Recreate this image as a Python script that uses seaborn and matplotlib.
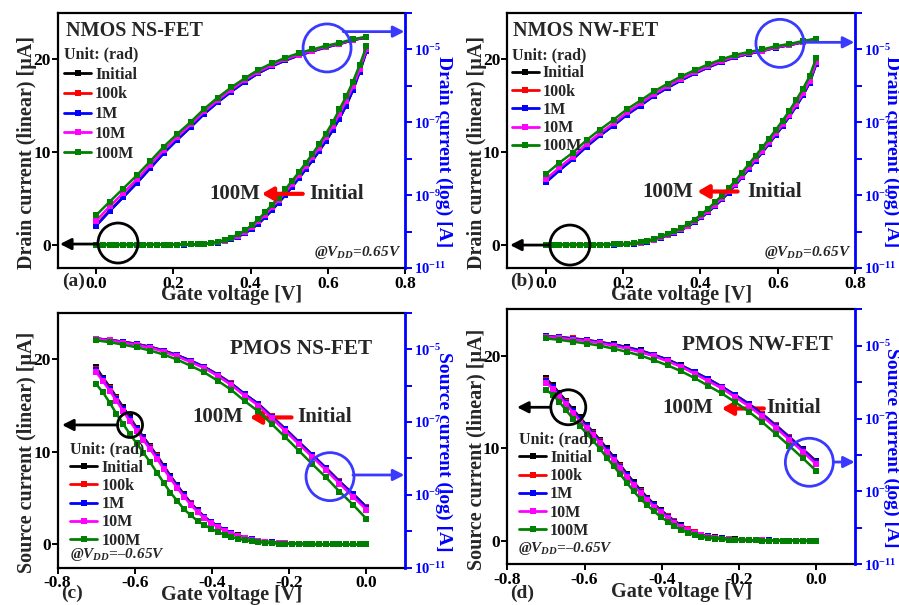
import numpy as np
import pandas as pd
import matplotlib
matplotlib.use("Agg")
import matplotlib.pyplot as plt
import seaborn as sns
from matplotlib.patches import Ellipse
from matplotlib.lines import Line2D
from matplotlib.ticker import NullLocator, FixedLocator, FixedFormatter

# ---------------- data ----------------
SERIES = ["Initial", "100k", "1M", "10M", "100M"]
COLORS = ["#000000", "#ff0000", "#0000ff", "#ff00ff", "#008000"]

# gate-voltage sweeps (V)
VG_N_LOG = np.linspace(0.0, 0.7, 21)
VG_N_LIN = np.linspace(0.0, 0.7, 41)
VG_P_LOG = np.linspace(-0.7, 0.0, 21)
VG_P_LIN = np.linspace(-0.7, 0.0, 41)

# (a) NMOS NS-FET : log10 of drain current [A]
a_log_Initial = [-9.83, -9.43, -9.05, -8.67, -8.26, -7.84, -7.47, -7.13, -6.76, -6.44, -6.15, -5.89, -5.65, -5.46, -5.30, -5.16, -5.05, -4.94, -4.85, -4.74, -4.67]
a_log_100k = [-9.82, -9.42, -9.05, -8.66, -8.25, -7.84, -7.47, -7.12, -6.76, -6.44, -6.15, -5.89, -5.65, -5.46, -5.30, -5.16, -5.05, -4.94, -4.85, -4.74, -4.67]
a_log_1M = [-9.84, -9.44, -9.06, -8.67, -8.26, -7.85, -7.48, -7.13, -6.77, -6.45, -6.16, -5.89, -5.65, -5.46, -5.30, -5.16, -5.05, -4.94, -4.85, -4.74, -4.67]
a_log_10M = [-9.70, -9.31, -8.94, -8.57, -8.17, -7.76, -7.40, -7.06, -6.70, -6.39, -6.10, -5.84, -5.61, -5.43, -5.27, -5.14, -5.03, -4.92, -4.84, -4.73, -4.66]
a_log_100M = [-9.55, -9.18, -8.82, -8.46, -8.07, -7.67, -7.32, -6.99, -6.63, -6.32, -6.04, -5.79, -5.56, -5.38, -5.23, -5.10, -5.00, -4.90, -4.82, -4.72, -4.65]
# (a) linear drain current [uA]
a_lin_Initial = [0.00, 0.00, 0.00, 0.00, 0.00, 0.00, 0.00, 0.01, 0.01, 0.01, 0.01, 0.02, 0.02, 0.03, 0.04, 0.06, 0.10, 0.15, 0.25, 0.39, 0.60, 0.89, 1.25, 1.72, 2.30, 2.98, 3.75, 4.55, 5.38, 6.28, 7.19, 8.14, 9.11, 10.13, 11.21, 12.37, 13.63, 15.03, 16.70, 18.70, 20.90]
a_lin_100k = [0.00, 0.00, 0.00, 0.00, 0.00, 0.00, 0.00, 0.01, 0.01, 0.01, 0.01, 0.02, 0.02, 0.03, 0.04, 0.06, 0.10, 0.15, 0.25, 0.39, 0.61, 0.90, 1.26, 1.73, 2.31, 2.99, 3.76, 4.56, 5.40, 6.30, 7.21, 8.16, 9.13, 10.15, 11.23, 12.40, 13.66, 15.06, 16.72, 18.72, 20.90]
a_lin_1M = [0.00, 0.00, 0.00, 0.00, 0.00, 0.00, 0.00, 0.01, 0.01, 0.01, 0.01, 0.02, 0.02, 0.03, 0.04, 0.06, 0.10, 0.15, 0.25, 0.39, 0.60, 0.89, 1.24, 1.71, 2.29, 2.97, 3.74, 4.54, 5.37, 6.27, 7.18, 8.13, 9.10, 10.12, 11.20, 12.36, 13.62, 15.02, 16.68, 18.68, 20.85]
a_lin_10M = [0.00, 0.00, 0.00, 0.00, 0.00, 0.00, 0.01, 0.01, 0.01, 0.01, 0.02, 0.02, 0.03, 0.04, 0.05, 0.07, 0.11, 0.18, 0.29, 0.46, 0.69, 1.00, 1.40, 1.91, 2.53, 3.25, 4.03, 4.83, 5.69, 6.59, 7.53, 8.48, 9.46, 10.49, 11.61, 12.79, 14.12, 15.52, 17.10, 18.95, 21.10]
a_lin_100M = [0.00, 0.00, 0.00, 0.00, 0.00, 0.00, 0.01, 0.01, 0.01, 0.01, 0.02, 0.02, 0.03, 0.04, 0.05, 0.08, 0.13, 0.21, 0.33, 0.52, 0.78, 1.12, 1.55, 2.10, 2.75, 3.50, 4.30, 5.10, 6.00, 6.90, 7.85, 8.80, 9.80, 10.85, 12.00, 13.20, 14.60, 16.00, 17.60, 19.40, 21.40]

# (b) NMOS NW-FET
b_log_Initial = [-8.64, -8.31, -8.01, -7.66, -7.36, -7.08, -6.78, -6.53, -6.27, -6.05, -5.84, -5.66, -5.49, -5.34, -5.21, -5.12, -5.04, -4.95, -4.88, -4.80, -4.72]
b_log_100k = [-8.63, -8.30, -8.00, -7.66, -7.35, -7.08, -6.78, -6.53, -6.27, -6.04, -5.84, -5.66, -5.49, -5.34, -5.21, -5.12, -5.04, -4.95, -4.88, -4.80, -4.72]
b_log_1M = [-8.65, -8.32, -8.01, -7.67, -7.36, -7.09, -6.79, -6.54, -6.27, -6.05, -5.85, -5.66, -5.49, -5.34, -5.21, -5.12, -5.04, -4.95, -4.88, -4.80, -4.72]
b_log_10M = [-8.56, -8.24, -7.94, -7.60, -7.30, -7.03, -6.73, -6.48, -6.22, -6.01, -5.80, -5.63, -5.46, -5.31, -5.19, -5.10, -5.03, -4.94, -4.87, -4.79, -4.71]
b_log_100M = [-8.42, -8.11, -7.83, -7.49, -7.20, -6.93, -6.64, -6.40, -6.15, -5.94, -5.74, -5.57, -5.41, -5.27, -5.15, -5.07, -5.00, -4.91, -4.85, -4.77, -4.70]
b_lin_Initial = [0.00, 0.00, 0.00, 0.00, 0.00, 0.00, 0.00, 0.01, 0.01, 0.02, 0.03, 0.05, 0.08, 0.13, 0.22, 0.35, 0.53, 0.76, 1.04, 1.32, 1.62, 1.99, 2.46, 2.98, 3.56, 4.20, 4.90, 5.64, 6.44, 7.29, 8.19, 9.09, 9.99, 10.91, 11.86, 12.83, 13.85, 14.94, 16.12, 17.50, 19.60]
b_lin_100k = [0.00, 0.00, 0.00, 0.00, 0.00, 0.00, 0.00, 0.01, 0.01, 0.02, 0.03, 0.05, 0.08, 0.13, 0.22, 0.35, 0.53, 0.77, 1.05, 1.33, 1.63, 2.00, 2.47, 2.99, 3.57, 4.22, 4.92, 5.66, 6.46, 7.31, 8.21, 9.11, 10.01, 10.93, 11.88, 12.85, 13.87, 14.96, 16.14, 17.52, 19.62]
b_lin_1M = [0.00, 0.00, 0.00, 0.00, 0.00, 0.00, 0.00, 0.01, 0.01, 0.02, 0.03, 0.05, 0.08, 0.13, 0.22, 0.35, 0.52, 0.76, 1.03, 1.31, 1.61, 1.98, 2.45, 2.97, 3.55, 4.19, 4.89, 5.63, 6.43, 7.28, 8.18, 9.08, 9.98, 10.90, 11.85, 12.82, 13.84, 14.93, 16.11, 17.48, 19.55]
b_lin_10M = [0.00, 0.00, 0.00, 0.00, 0.00, 0.00, 0.01, 0.01, 0.01, 0.02, 0.04, 0.06, 0.10, 0.15, 0.24, 0.38, 0.56, 0.81, 1.09, 1.37, 1.67, 2.07, 2.54, 3.07, 3.66, 4.32, 5.02, 5.78, 6.58, 7.44, 8.34, 9.24, 10.14, 11.07, 12.02, 13.00, 14.03, 15.14, 16.32, 17.70, 19.75]
b_lin_100M = [0.00, 0.00, 0.00, 0.00, 0.00, 0.00, 0.01, 0.01, 0.02, 0.03, 0.05, 0.08, 0.12, 0.18, 0.27, 0.45, 0.64, 0.92, 1.20, 1.48, 1.80, 2.25, 2.73, 3.30, 3.90, 4.60, 5.30, 6.10, 6.90, 7.80, 8.70, 9.60, 10.50, 11.45, 12.40, 13.40, 14.45, 15.60, 16.80, 18.20, 20.20]

# (c) PMOS NS-FET : log10 of source current [A]
c_log_Initial = [-4.71, -4.75, -4.80, -4.86, -4.94, -5.04, -5.17, -5.32, -5.49, -5.70, -5.94, -6.24, -6.50, -6.85, -7.19, -7.55, -7.90, -8.26, -8.63, -8.97, -9.33]
c_log_100k = [-4.71, -4.75, -4.80, -4.86, -4.94, -5.04, -5.17, -5.32, -5.49, -5.70, -5.94, -6.24, -6.51, -6.85, -7.19, -7.55, -7.91, -8.26, -8.63, -8.98, -9.34]
c_log_1M = [-4.71, -4.75, -4.80, -4.87, -4.94, -5.05, -5.17, -5.32, -5.49, -5.71, -5.95, -6.24, -6.51, -6.86, -7.20, -7.56, -7.91, -8.27, -8.64, -8.98, -9.35]
c_log_10M = [-4.72, -4.76, -4.82, -4.89, -4.96, -5.07, -5.20, -5.36, -5.52, -5.74, -5.99, -6.28, -6.55, -6.90, -7.25, -7.61, -7.96, -8.32, -8.69, -9.05, -9.41]
c_log_100M = [-4.76, -4.81, -4.88, -4.95, -5.04, -5.15, -5.29, -5.46, -5.64, -5.87, -6.12, -6.43, -6.71, -7.06, -7.42, -7.79, -8.16, -8.52, -8.91, -9.27, -9.66]
c_lin_Initial = [19.10, 18.00, 17.00, 15.90, 14.80, 13.70, 12.60, 11.60, 10.60, 9.60, 8.50, 7.40, 6.40, 5.40, 4.50, 3.70, 3.00, 2.45, 2.00, 1.60, 1.25, 0.97, 0.74, 0.56, 0.42, 0.31, 0.23, 0.17, 0.12, 0.09, 0.07, 0.05, 0.04, 0.03, 0.03, 0.02, 0.02, 0.01, 0.01, 0.01, 0.01]
c_lin_100k = [18.90, 17.85, 16.85, 15.75, 14.65, 13.55, 12.50, 11.50, 10.50, 9.50, 8.40, 7.32, 6.30, 5.33, 4.45, 3.65, 2.97, 2.42, 1.97, 1.58, 1.23, 0.96, 0.73, 0.55, 0.41, 0.30, 0.22, 0.17, 0.12, 0.09, 0.07, 0.05, 0.04, 0.03, 0.03, 0.02, 0.02, 0.01, 0.01, 0.01, 0.01]
c_lin_1M = [18.85, 17.80, 16.80, 15.70, 14.60, 13.50, 12.45, 11.45, 10.45, 9.45, 8.35, 7.28, 6.27, 5.30, 4.42, 3.63, 2.95, 2.40, 1.95, 1.56, 1.22, 0.95, 0.72, 0.55, 0.41, 0.30, 0.22, 0.17, 0.12, 0.09, 0.07, 0.05, 0.04, 0.03, 0.03, 0.02, 0.02, 0.01, 0.01, 0.01, 0.01]
c_lin_10M = [18.60, 17.60, 16.60, 15.50, 14.40, 13.30, 12.25, 11.25, 10.25, 9.25, 8.15, 7.10, 6.10, 5.15, 4.30, 3.50, 2.85, 2.32, 1.88, 1.50, 1.17, 0.90, 0.69, 0.52, 0.39, 0.29, 0.21, 0.16, 0.11, 0.08, 0.06, 0.05, 0.04, 0.03, 0.03, 0.02, 0.02, 0.01, 0.01, 0.01, 0.01]
c_lin_100M = [17.30, 16.40, 15.30, 14.10, 13.00, 11.90, 10.90, 9.90, 8.85, 7.75, 6.65, 5.60, 4.70, 3.80, 3.15, 2.55, 2.10, 1.70, 1.35, 1.05, 0.82, 0.62, 0.46, 0.34, 0.25, 0.18, 0.13, 0.09, 0.07, 0.05, 0.04, 0.03, 0.02, 0.02, 0.01, 0.01, 0.01, 0.01, 0.00, 0.00, 0.00]

# (d) PMOS NW-FET
d_log_Initial = [-4.74, -4.76, -4.80, -4.84, -4.90, -4.96, -5.04, -5.13, -5.25, -5.38, -5.54, -5.72, -5.91, -6.12, -6.35, -6.59, -6.87, -7.18, -7.50, -7.84, -8.17]
d_log_100k = [-4.74, -4.77, -4.80, -4.85, -4.90, -4.97, -5.05, -5.14, -5.26, -5.39, -5.55, -5.73, -5.92, -6.13, -6.36, -6.60, -6.88, -7.19, -7.51, -7.85, -8.18]
d_log_1M = [-4.74, -4.77, -4.81, -4.85, -4.91, -4.97, -5.05, -5.14, -5.26, -5.39, -5.55, -5.73, -5.92, -6.13, -6.36, -6.61, -6.89, -7.20, -7.52, -7.86, -8.20]
d_log_10M = [-4.75, -4.79, -4.83, -4.87, -4.93, -5.00, -5.08, -5.18, -5.29, -5.43, -5.58, -5.77, -5.97, -6.17, -6.41, -6.66, -6.94, -7.25, -7.58, -7.91, -8.26]
d_log_100M = [-4.80, -4.84, -4.89, -4.94, -5.00, -5.08, -5.17, -5.27, -5.40, -5.54, -5.70, -5.89, -6.10, -6.31, -6.55, -6.81, -7.10, -7.42, -7.75, -8.09, -8.44]
d_lin_Initial = [17.55, 16.80, 15.95, 15.10, 14.20, 13.35, 12.55, 11.75, 10.90, 10.00, 9.10, 8.20, 7.25, 6.35, 5.50, 4.70, 4.00, 3.35, 2.75, 2.20, 1.72, 1.30, 0.97, 0.71, 0.52, 0.39, 0.30, 0.23, 0.18, 0.14, 0.11, 0.09, 0.08, 0.07, 0.06, 0.05, 0.04, 0.04, 0.03, 0.03, 0.03]
d_lin_100k = [17.35, 16.66, 15.82, 14.96, 14.06, 13.21, 12.41, 11.61, 10.76, 9.86, 8.96, 8.06, 7.11, 6.21, 5.37, 4.58, 3.89, 3.26, 2.67, 2.13, 1.66, 1.26, 0.94, 0.69, 0.51, 0.38, 0.29, 0.22, 0.17, 0.13, 0.10, 0.09, 0.08, 0.07, 0.06, 0.05, 0.04, 0.04, 0.03, 0.03, 0.03]
d_lin_1M = [17.30, 16.62, 15.78, 14.93, 14.03, 13.18, 12.38, 11.58, 10.73, 9.83, 8.93, 8.03, 7.08, 6.18, 5.34, 4.55, 3.86, 3.23, 2.64, 2.10, 1.64, 1.24, 0.92, 0.67, 0.50, 0.37, 0.29, 0.22, 0.17, 0.13, 0.10, 0.09, 0.08, 0.07, 0.06, 0.05, 0.04, 0.04, 0.03, 0.03, 0.03]
d_lin_10M = [17.10, 16.45, 15.60, 14.75, 13.85, 13.00, 12.20, 11.40, 10.55, 9.65, 8.75, 7.85, 6.90, 6.00, 5.17, 4.40, 3.72, 3.10, 2.52, 2.00, 1.55, 1.17, 0.86, 0.63, 0.47, 0.35, 0.27, 0.21, 0.16, 0.13, 0.10, 0.08, 0.07, 0.06, 0.05, 0.05, 0.04, 0.04, 0.03, 0.03, 0.03]
d_lin_100M = [16.30, 15.80, 15.00, 14.10, 13.20, 12.45, 11.60, 10.80, 9.95, 9.00, 8.10, 7.20, 6.25, 5.35, 4.55, 3.85, 3.20, 2.60, 2.10, 1.62, 1.22, 0.90, 0.64, 0.46, 0.34, 0.26, 0.20, 0.16, 0.13, 0.10, 0.08, 0.07, 0.06, 0.05, 0.04, 0.04, 0.03, 0.03, 0.02, 0.02, 0.02]

X_TICKS_N = [0.0, 0.2, 0.4, 0.6, 0.8]
X_TICKS_P = [-0.8, -0.6, -0.4, -0.2, 0.0]
Y_TICKS = [0, 10, 20]
LOG_TICK_EXP = [-11, -10, -9, -8, -7, -6, -5, -4]
LOG_TICK_LABELS = [r"$10^{-11}$", "", r"$10^{-9}$", "", r"$10^{-7}$", "", r"$10^{-5}$", ""]

# ---------------- style ----------------
sns.set_theme(style="white")
plt.rcParams["font.family"] = ["Liberation Serif", "DejaVu Serif"]
plt.rcParams["font.weight"] = "bold"
plt.rcParams["axes.labelweight"] = "bold"
plt.rcParams["axes.unicode_minus"] = False
plt.rcParams["mathtext.fontset"] = "custom"
plt.rcParams["mathtext.rm"] = "Liberation Serif:bold"
plt.rcParams["mathtext.bf"] = "Liberation Serif:bold"
plt.rcParams["mathtext.it"] = "Liberation Serif:italic:bold"

BLUE_AX = "#0000ff"
BLUE_MARK = "#3a3aff"
MS = 4.3
LW = 1.8

fig = plt.figure(figsize=(8.99, 6.05), dpi=100)


def draw_panel(rect, vg_log, vg_lin, logs, lins, xlim, xticks, ylab, rylab, rx):
    ax = fig.add_axes(rect)
    ax2 = ax.twinx()
    for name, col in zip(SERIES, COLORS):
        df = pd.DataFrame({"Vg": vg_lin, "I": lins[name]})
        sns.lineplot(data=df, x="Vg", y="I", ax=ax, color=col, marker="s",
                     markersize=MS, markeredgewidth=0, markeredgecolor=col,
                     linewidth=LW, legend=False, sort=False)
    for name, col in zip(SERIES, COLORS):
        df = pd.DataFrame({"Vg": vg_log, "I": np.power(10.0, logs[name])})
        sns.lineplot(data=df, x="Vg", y="I", ax=ax2, color=col, marker="s",
                     markersize=MS, markeredgewidth=0, markeredgecolor=col,
                     linewidth=LW, legend=False, sort=False)
    ax.set_xlim(*xlim)
    ax.set_ylim(-2.5, 25)
    ax.set_xticks(xticks)
    ax.set_yticks(Y_TICKS)
    ax2.set_yscale("log")
    ax2.set_ylim(1e-11, 1e-4)
    ax2.yaxis.set_major_locator(FixedLocator([10.0 ** e for e in LOG_TICK_EXP]))
    ax2.yaxis.set_major_formatter(FixedFormatter(LOG_TICK_LABELS))
    ax2.yaxis.set_minor_locator(NullLocator())

    ax.tick_params(axis="both", which="major", direction="out", length=4, width=1.4,
                   labelsize=12.5, pad=1.0, bottom=True, left=True, top=False, right=False,
                   colors="black")
    ax.tick_params(axis="x", pad=1.5)
    ax2.tick_params(axis="y", which="major", direction="out", length=5, width=1.4,
                    labelsize=10.5, pad=1.5, right=True, colors=BLUE_AX)
    for s in ["left", "bottom", "top"]:
        ax.spines[s].set_color("black")
        ax.spines[s].set_linewidth(1.6)
    ax.spines["right"].set_visible(False)
    for s in ["left", "bottom", "top"]:
        ax2.spines[s].set_visible(False)
    ax2.spines["right"].set_color(BLUE_AX)
    ax2.spines["right"].set_linewidth(2.0)
    ax.set_xlabel("Gate voltage [V]", fontsize=14.5, fontweight="bold")
    ax.xaxis.set_label_coords(0.5, -0.107)
    ax.xaxis.label.set_va("center")
    ax.set_ylabel(ylab, fontsize=14.5, fontweight="bold")
    ax.yaxis.set_label_coords(-0.088, 0.452)
    ax.yaxis.label.set_va("center")
    ax2.set_ylabel(rylab, fontsize=14, fontweight="bold", color=BLUE_AX, rotation=270)
    ax2.yaxis.set_label_coords(rx, 0.456)
    ax2.yaxis.label.set_va("center")
    ax2.yaxis.label.set_ha("center")
    ax2.yaxis.label.set_rotation_mode("anchor")
    return ax, ax2


def add_legend(ax2, anchor, spacing):
    handles = [Line2D([], [], color=c, marker="s", markersize=MS, markeredgewidth=0,
                      linewidth=2.0) for c in COLORS]
    ax2.legend(handles, SERIES, loc="upper left", bbox_to_anchor=anchor,
               bbox_transform=ax2.transAxes, frameon=False, title="Unit: (rad)",
               alignment="left", prop={"weight": "bold", "size": 11.5},
               title_fontproperties={"weight": "bold", "size": 11.5},
               handlelength=1.7, handletextpad=0.25, labelspacing=spacing,
               borderpad=0, borderaxespad=0)


def add_marks(ax2, black_c, black_r, black_arrow, blue_c, blue_arrow):
    w = 2 * black_r / (fig.bbox.width * ax2.get_position().width)
    h = 2 * black_r / (fig.bbox.height * ax2.get_position().height)
    ax2.add_patch(Ellipse(black_c, w, h, transform=ax2.transAxes, fill=False,
                          edgecolor="black", linewidth=2.0, clip_on=False, zorder=10))
    ax2.annotate("", xy=black_arrow[1], xytext=black_arrow[0], xycoords="axes fraction",
                 textcoords="axes fraction",
                 arrowprops=dict(arrowstyle="-|>,head_length=0.55,head_width=0.28",
                                 color="black", lw=2.0, shrinkA=0, shrinkB=0))
    w = 2 * 24 / (fig.bbox.width * ax2.get_position().width)
    h = 2 * 24 / (fig.bbox.height * ax2.get_position().height)
    ax2.add_patch(Ellipse(blue_c, w, h, transform=ax2.transAxes, fill=False,
                          edgecolor=BLUE_MARK, linewidth=2.0, clip_on=False, zorder=10))
    ax2.annotate("", xy=blue_arrow[1], xytext=blue_arrow[0], xycoords="axes fraction",
                 textcoords="axes fraction", annotation_clip=False,
                 arrowprops=dict(arrowstyle="-|>,head_length=0.55,head_width=0.28",
                                 color=BLUE_MARK, lw=2.0, shrinkA=0, shrinkB=0))


def add_shift(ax, y, x_text_r, x_tail, x_tip, x_init):
    ax.annotate("", xy=(x_tip, y), xytext=(x_tail, y),
                arrowprops=dict(arrowstyle="-|>,head_length=0.55,head_width=0.32",
                                color="#ff0000", lw=3.0, shrinkA=0, shrinkB=0), zorder=12)
    ax.text(x_text_r, y, "100M", ha="right", va="center", fontsize=15, fontweight="bold",
            zorder=12)
    ax.text(x_init, y, "Initial", ha="left", va="center", fontsize=15, fontweight="bold",
            zorder=12)


def series_dict(prefix):
    g = globals()
    return {s: g[prefix + s] for s in SERIES}


# ---------- panel (a) ----------
axA, axA2 = draw_panel([0.064, 0.557, 0.3866, 0.4215], VG_N_LOG, VG_N_LIN,
                       series_dict("a_log_"), series_dict("a_lin_"), (-0.1, 0.8), X_TICKS_N,
                       "Drain current (linear) [μA]", "Drain current (log) [A]", 1.112)
axA2.text(0.0245, 0.929, "NMOS NS-FET", transform=axA2.transAxes, ha="left", va="center",
          fontsize=14.5, fontweight="bold")
add_legend(axA2, (0.0187, 0.868), 0.24)
axA2.text(0.99, 0.06, "@$V_{DD}$=0.65V", transform=axA2.transAxes, ha="right", va="center",
          fontsize=11, fontweight="bold", fontstyle="italic")
add_marks(axA2, (0.174, 0.098), 20, ((0.115, 0.094), (0.007, 0.094)),
          (0.7755, 0.863), ((0.822, 0.927), (0.998, 0.927)))
add_shift(axA, 5.5, 0.424, 0.535, 0.429, 0.553)

# ---------- panel (b) ----------
axB, axB2 = draw_panel([0.5643, 0.557, 0.3868, 0.4215], VG_N_LOG, VG_N_LIN,
                       series_dict("b_log_"), series_dict("b_lin_"), (-0.1, 0.8), X_TICKS_N,
                       "Drain current (linear) [μA]", "Drain current (log) [A]", 1.104)
axB2.text(0.016, 0.929, "NMOS NW-FET", transform=axB2.transAxes, ha="left", va="center",
          fontsize=14.5, fontweight="bold")
add_legend(axB2, (0.0127, 0.866), 0.14)
axB2.text(0.99, 0.06, "@$V_{DD}$=0.65V", transform=axB2.transAxes, ha="right", va="center",
          fontsize=11, fontweight="bold", fontstyle="italic")
add_marks(axB2, (0.180, 0.090), 20, ((0.1225, 0.090), (0.008, 0.090)),
          (0.784, 0.881), ((0.85, 0.885), (0.998, 0.885)))
add_shift(axB, 5.75, 0.38, 0.496, 0.392, 0.52)

# ---------- panel (c) ----------
axC, axC2 = draw_panel([0.064, 0.0617, 0.3866, 0.4215], VG_P_LOG, VG_P_LIN,
                       series_dict("c_log_"), series_dict("c_lin_"), (-0.8, 0.1), X_TICKS_P,
                       "Source current (linear) [μA]", "Source current (log) [A]", 1.112)
axC2.text(0.496, 0.856, "PMOS NS-FET", transform=axC2.transAxes, ha="left", va="center",
          fontsize=15.3, fontweight="bold")
add_legend(axC2, (0.036, 0.495), 0.14)
axC2.text(0.036, 0.05, "@$V_{DD}$=\u20130.65V", transform=axC2.transAxes, ha="left",
          va="center", fontsize=11, fontweight="bold", fontstyle="italic")
add_marks(axC2, (0.2086, 0.5596), 12.5, ((0.174, 0.5596), (0.013, 0.5596)),
          (0.784, 0.357), ((0.85, 0.3635), (0.998, 0.3635)))
add_shift(axC, 13.7, -0.32, -0.194, -0.302, -0.180)

# ---------- panel (d) ----------
axD, axD2 = draw_panel([0.5643, 0.0673, 0.3868, 0.4215], VG_P_LOG, VG_P_LIN,
                       series_dict("d_log_"), series_dict("d_lin_"), (-0.8, 0.1), X_TICKS_P,
                       "Source current (linear) [μA]", "Source current (log) [A]", 1.104)
axD2.text(0.5025, 0.86, "PMOS NW-FET", transform=axD2.transAxes, ha="left", va="center",
          fontsize=15.3, fontweight="bold")
add_legend(axD2, (0.0336, 0.52), 0.14)
axD2.text(0.031, 0.063, "@$V_{DD}$=\u20130.65V", transform=axD2.transAxes, ha="left",
          va="center", fontsize=11, fontweight="bold", fontstyle="italic")
add_marks(axD2, (0.1754, 0.6157), 17.5, ((0.1228, 0.6157), (0.028, 0.6157)),
          (0.8686, 0.40), ((0.937, 0.401), (0.999, 0.401)))
add_shift(axD, 14.3, -0.266, -0.136, -0.245, -0.129)

for lab, x, y in [("(a)", 0.0818, 0.5355), ("(b)", 0.581, 0.5355),
                  ("(c)", 0.0806, 0.0198), ("(d)", 0.581, 0.0198)]:
    fig.text(x, y, lab, ha="center", va="center", fontsize=14, fontweight="bold")

fig.savefig("out.png", dpi=100)
